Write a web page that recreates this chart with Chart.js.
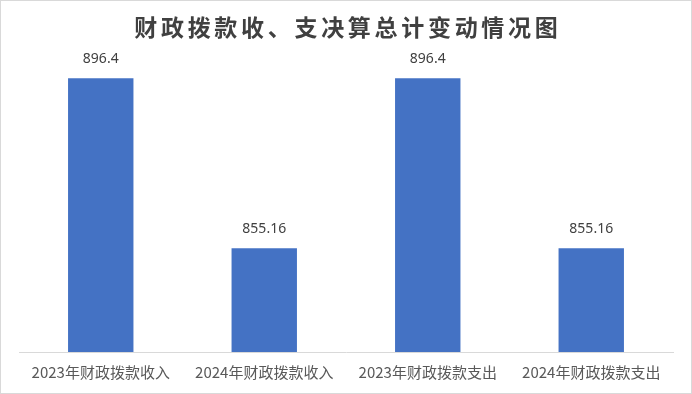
<!DOCTYPE html>
<html>
<head>
<meta charset="utf-8">
<script src="https://cdn.jsdelivr.net/npm/chart.js@4/dist/chart.umd.min.js"></script>
<style>
html,body{margin:0;padding:0;background:#fff;}
#wrap{width:692px;height:394px;position:relative;}
</style>
</head>
<body>
<div id="wrap"><canvas id="c" width="692" height="394"></canvas></div>
<script>
const titleText = '财政拨款收、支决算总计变动情况图';
const categories = ['2023年财政拨款收入','2024年财政拨款收入','2023年财政拨款支出','2024年财政拨款支出'];
const values = [896.4, 855.16, 896.4, 855.16];
const valueLabels = ['896.4','855.16','896.4','855.16'];

const borderPlugin = {
  id: 'borderPlugin',
  beforeDraw(chart) {
    const ctx = chart.ctx;
    ctx.save();
    ctx.fillStyle = '#ffffff';
    ctx.fillRect(0, 0, chart.width, chart.height);
    ctx.strokeStyle = '#d9d9d9';
    ctx.lineWidth = 1;
    ctx.strokeRect(0.5, 0.5, chart.width - 1, chart.height - 1);
    ctx.restore();
  }
};

const titlePlugin = {
  id: 'titlePlugin',
  afterDraw(chart) {
    const ctx = chart.ctx;
    ctx.save();
    const sp = 3.7;
    try { ctx.letterSpacing = sp + 'px'; } catch (e) {}
    ctx.font = 'bold 23px "Noto Sans CJK SC", sans-serif';
    ctx.fillStyle = '#404040';
    ctx.textAlign = 'center';
    ctx.textBaseline = 'middle';
    ctx.fillText(titleText, chart.width / 2 + sp / 2, 27);
    ctx.restore();
  }
};

const labelPlugin = {
  id: 'labelPlugin',
  afterDatasetsDraw(chart) {
    const ctx = chart.ctx;
    const meta = chart.getDatasetMeta(0);
    ctx.save();
    ctx.font = '14px "Noto Sans", "Noto Sans CJK SC", sans-serif';
    ctx.fillStyle = '#404040';
    ctx.textAlign = 'center';
    ctx.textBaseline = 'middle';
    meta.data.forEach((bar, i) => {
      ctx.fillText(valueLabels[i], bar.x, bar.y - 19);
    });
    ctx.restore();
  }
};

new Chart(document.getElementById('c'), {
  type: 'bar',
  data: {
    labels: categories,
    datasets: [{
      data: values,
      backgroundColor: '#4472C4',
      borderWidth: 0,
      categoryPercentage: 1,
      barPercentage: 0.4
    }]
  },
  options: {
    responsive: false,
    animation: false,
    layout: { padding: { left: 19, right: 19, top: 63.5, bottom: 2 } },
    plugins: {
      legend: { display: false },
      tooltip: { enabled: false },
      title: { display: false }
    },
    scales: {
      y: {
        display: false,
        min: 830,
        max: 900
      },
      x: {
        grid: { display: false, drawTicks: false },
        border: { display: true, color: '#d9d9d9', width: 1 },
        ticks: {
          color: '#595959',
          padding: 11,
          maxRotation: 0,
          autoSkip: false,
          font: { family: '"Noto Sans CJK SC", sans-serif', size: 15, lineHeight: 1.2 }
        }
      }
    }
  },
  plugins: [borderPlugin, labelPlugin, titlePlugin]
});
</script>
</body>
</html>
